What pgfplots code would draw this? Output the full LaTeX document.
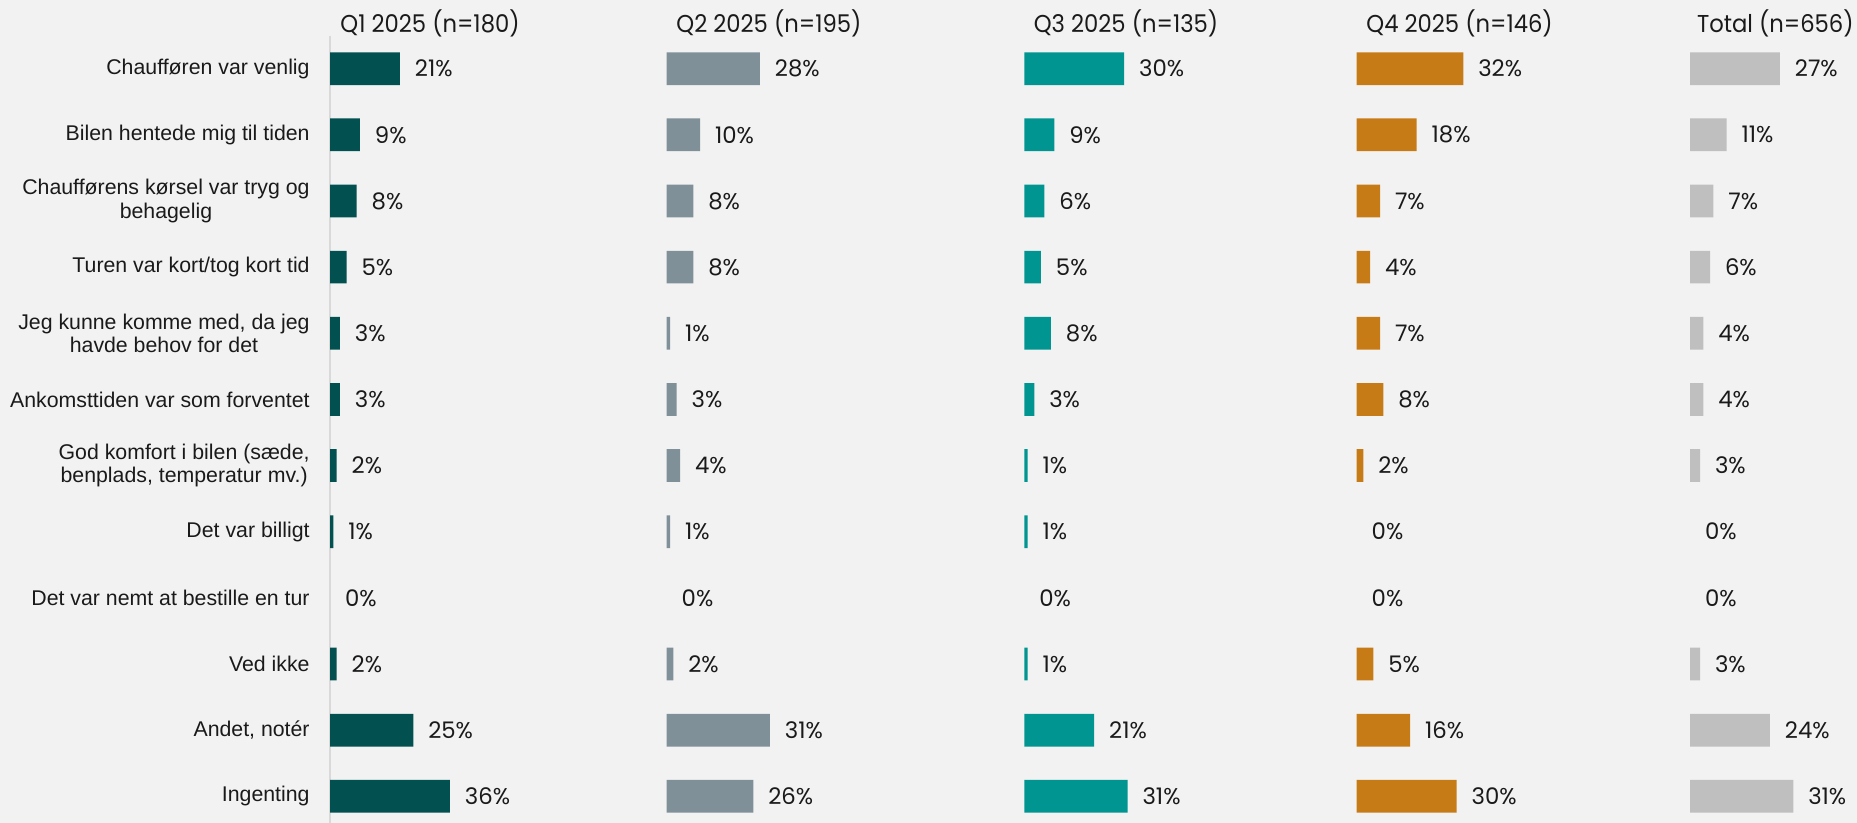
\documentclass[border=0pt]{standalone}
\usepackage{pgfplots}
\usepackage{pgfplotstable}
\pgfplotsset{compat=1.18}
\usepackage{fontspec}
\setmainfont{Liberation Sans}
\newfontfamily\valfont[Numbers=Monospaced]{Poppins}
\newfontfamily\titfont[Numbers=Monospaced, FakeStretch=0.93]{Poppins}
\definecolor{bgc}{HTML}{F2F2F2}
\definecolor{cQa}{HTML}{025050}
\definecolor{cQb}{HTML}{7F9099}
\definecolor{cQc}{HTML}{009591}
\definecolor{cQd}{HTML}{C77B17}
\definecolor{cT}{HTML}{BFBFBF}
\definecolor{axc}{HTML}{D9D9D9}
\definecolor{txt}{HTML}{1A1A1A}

\pgfplotstableread{
row q1 q2 q3 q4 tot
0 21 28 30 32 27
1 9 10 9 18 11
2 8 8 6 7 7
3 5 8 5 4 6
4 3 1 8 7 4
5 3 3 3 8 4
6 2 4 1 2 3
7 1 1 1 0 0
8 0 0 0 0 0
9 2 2 1 5 3
10 25 31 21 16 24
11 36 26 31 30 31
}\datatable

\pgfplotsset{
  panel/.style={
    anchor=north west, x=1.665pt, y=33.075pt, y dir=reverse,
    xmin=0, xmax=40, ymin=-0.5, ymax=11.5, clip=false,
    xbar, bar width=16.35pt, bar shift=0pt,
  },
  hidepanel/.style={panel, hide axis},
  bars/.style={fill=#1, draw=none, x filter/.expression={x==0 ? nan : x}},
  labs/.style={draw=none, fill=none, point meta=x,
    nodes near coords={\pgfmathprintnumber[fixed,precision=0,assume math mode=true]{\pgfplotspointmeta}\%},
    every node near coord/.append style={anchor=west, inner sep=0pt, xshift=7.3pt, font=\valfont\fontsize{11.4}{13}\selectfont, text=txt}},
}

\begin{document}
\begin{tikzpicture}
\useasboundingbox (0,0) rectangle (928.5pt,411.5pt);
\fill[bgc] (0,0) rectangle (928.5pt,411.5pt);

\begin{axis}[panel, at={(165pt,393.7pt)},
  axis x line=none, axis y line=left,
  y axis line style={draw=axc, line width=1pt, -},
  ytick={0,...,11}, major tick length=0pt,
  yticklabels={Chaufføren var venlig, Bilen hentede mig til tiden, {Chaufførens kørsel var tryg og\\behagelig}, Turen var kort/tog kort tid, {Jeg kunne komme med, da jeg\\havde behov for det}, Ankomsttiden var som forventet, {God komfort i bilen (sæde,\\benplads, temperatur mv.)}, Det var billigt, Det var nemt at bestille en tur, Ved ikke, {Andet, notér}, Ingenting},
  yticklabel style={align=center, font=\fontsize{10.65}{11.7}\selectfont, text=txt, inner sep=0pt, anchor=east, xshift=-10pt},
]
\addplot[bars=cQa] table[x=q1, y=row] {\datatable};
\addplot[labs] table[x=q1, y=row] {\datatable};
\end{axis}

\begin{axis}[hidepanel, at={(333.35pt,393.7pt)}]
\addplot[bars=cQb] table[x=q2, y=row] {\datatable};
\addplot[labs] table[x=q2, y=row] {\datatable};
\end{axis}

\begin{axis}[hidepanel, at={(512.15pt,393.7pt)}]
\addplot[bars=cQc] table[x=q3, y=row] {\datatable};
\addplot[labs] table[x=q3, y=row] {\datatable};
\end{axis}

\begin{axis}[hidepanel, at={(678.35pt,393.7pt)}]
\addplot[bars=cQd] table[x=q4, y=row] {\datatable};
\addplot[labs] table[x=q4, y=row] {\datatable};
\end{axis}

\begin{axis}[hidepanel, at={(845pt,393.7pt)}]
\addplot[bars=cT] table[x=tot, y=row] {\datatable};
\addplot[labs] table[x=tot, y=row] {\datatable};
\end{axis}

\begin{scope}[every node/.style={anchor=base west, inner sep=0pt, font=\titfont\fontsize{12.2}{14}\selectfont, text=txt}]
\node at (170pt,395.25pt) {Q1 2025 (n=180)};
\node at (338pt,395.25pt) {Q2 2025 (n=195)};
\node at (516.7pt,395.25pt) {Q3 2025 (n=135)};
\node at (683pt,395.25pt) {Q4 2025 (n=146)};
\node at (848.3pt,395.25pt) {Total (n=656)};
\end{scope}
\end{tikzpicture}
\end{document}
